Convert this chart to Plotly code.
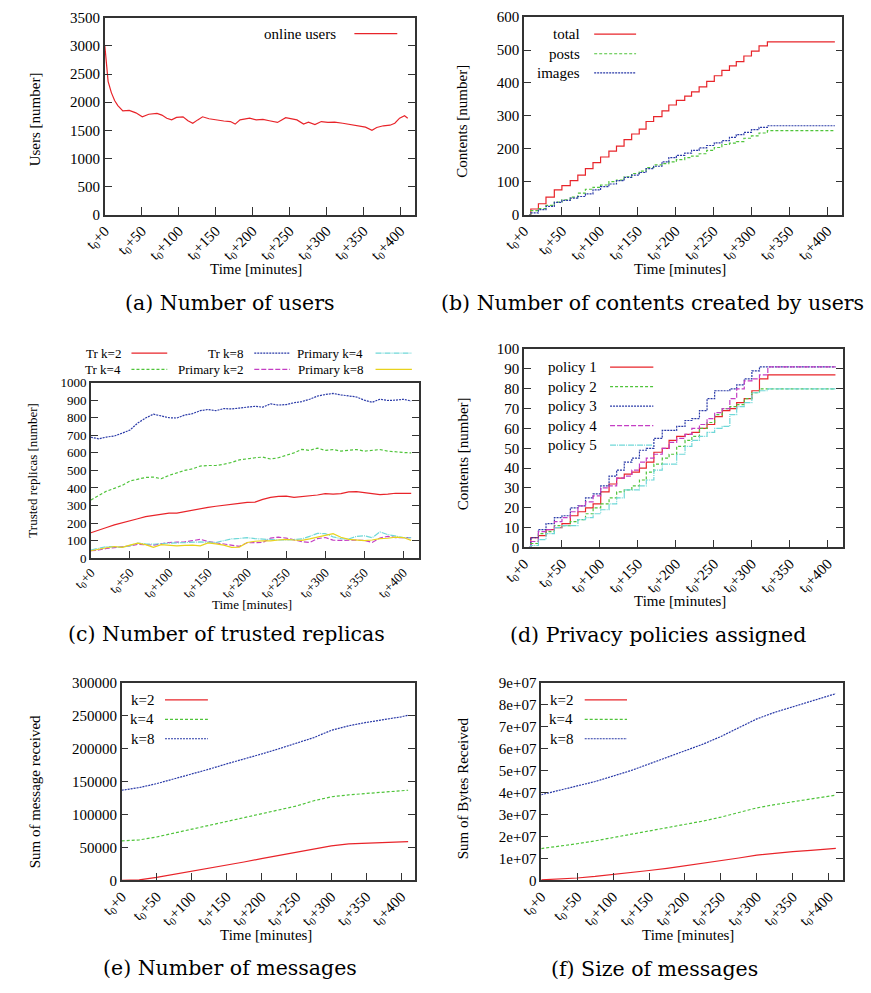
import plotly.graph_objects as go

W, H = 871, 993

# ---------------- data ----------------
X_TICKS = [0, 50, 100, 150, 200, 250, 300, 350, 400]
X_TICK_LABELS = ["t<sub>0</sub>+%d" % v for v in X_TICKS]

# (a) online users
A_T = [0, 2.2, 4.4, 8.8, 13.2, 17.6, 22, 24.3, 33, 42, 50.7, 59.5, 70.6, 77.2, 83.8, 90.4, 97, 105.8,
       112.5, 119, 125.7, 132.3, 141, 150, 161, 170, 176.4, 183, 196, 205, 214, 222.7, 233.7, 244.8,
       253.6, 260, 269, 275.6, 284.4, 293, 302, 311, 322, 333, 344, 352.8, 361.6, 368, 377, 386,
       392.5, 399, 405.7, 410]
A_USERS = [3000, 2600, 2370, 2170, 2030, 1940, 1870, 1845, 1855, 1810, 1740, 1785, 1800, 1770, 1715,
           1685, 1730, 1740, 1670, 1625, 1685, 1740, 1705, 1685, 1665, 1655, 1610, 1685, 1715, 1685,
           1695, 1670, 1640, 1725, 1695, 1685, 1610, 1645, 1600, 1655, 1640, 1645, 1625, 1600, 1570,
           1555, 1500, 1550, 1580, 1590, 1625, 1715, 1760, 1715]

# step times shared by (b) and (d)
STEP_START = 7
STEP_T = [9, 19, 29, 40, 50, 61, 71, 81, 91, 101, 112, 122, 132, 142, 152, 161, 171, 182, 191, 201,
          212, 221, 231, 241, 251, 261, 271, 280, 290, 300, 310, 321]
STEP_END = 410

# (b) contents
B_TOTAL = [17, 33, 53, 75, 88, 103, 120, 140, 158, 175, 193, 208, 228, 245, 260, 283, 298, 315, 333,
           347, 360, 373, 388, 405, 422, 438, 452, 465, 482, 497, 513, 525]
B_POSTS = [12, 18, 28, 38, 45, 53, 65, 77, 83, 90, 100, 105, 115, 125, 132, 143, 151, 155, 160, 167,
           173, 178, 185, 195, 204, 213, 217, 222, 232, 239, 248, 255]
B_IMAGES = [5, 15, 25, 37, 43, 50, 55, 63, 75, 85, 93, 103, 113, 120, 128, 140, 147, 160, 173, 180,
            187, 195, 203, 210, 218, 225, 235, 243, 250, 258, 265, 270]

# (c) trusted replicas
C_T = list(range(0, 420, 10))
C_TR2 = [145, 162, 175, 190, 203, 215, 225, 237, 245, 252, 257, 257, 265, 275, 285, 290, 296, 300, 305, 312,
         318, 320, 335, 347, 352, 354, 347, 350, 356, 360, 368, 365, 368, 378, 379, 373, 366, 362, 365, 370,
         370, 369]
C_TR4 = [332, 355, 382, 398, 415, 440, 452, 460, 462, 453, 472, 487, 500, 509, 525, 528, 528, 535, 545, 560,
         568, 572, 576, 565, 572, 585, 600, 620, 614, 627, 614, 619, 610, 615, 619, 610, 614, 619, 610, 605,
         602, 600]
C_TR8 = [689, 680, 690, 696, 712, 730, 770, 798, 820, 812, 800, 798, 815, 823, 840, 847, 840, 852, 850, 855,
         862, 865, 860, 879, 872, 875, 885, 892, 905, 923, 932, 938, 930, 926, 918, 900, 888, 905, 898, 900,
         905, 895]
C_P2 = [43, 47, 56, 60, 62, 70, 80, 78, 75, 82, 90, 92, 93, 100, 108, 95, 88, 80, 72, 68,
        88, 90, 90, 115, 120, 115, 105, 95, 90, 112, 118, 103, 102, 104, 103, 102, 90, 115, 125, 118,
        118, 117]
C_P4 = [47, 58, 67, 65, 62, 72, 86, 82, 80, 84, 86, 88, 93, 93, 93, 92, 90, 100, 110, 113,
        117, 112, 108, 106, 104, 104, 106, 110, 125, 142, 140, 122, 112, 110, 125, 128, 117, 150, 135, 125,
        118, 117]
C_P8 = [43, 53, 60, 67, 62, 75, 86, 78, 62, 78, 75, 71, 74, 75, 71, 88, 82, 75, 62, 64,
        90, 97, 99, 99, 104, 108, 104, 102, 110, 118, 130, 140, 120, 108, 104, 100, 104, 112, 114, 120,
        118, 102]

# (d) privacy policies
D_P1 = [5, 6, 9, 10, 12, 16, 18, 20, 22, 28, 32, 35, 37, 38, 40, 43, 48, 50, 54, 56, 57, 58, 60, 62,
        66, 69, 70, 73, 75, 79, 85, 87]
D_P2 = [2, 7, 8, 11, 11, 13, 14, 17, 20, 22, 25, 28, 29, 31, 34, 38, 42, 45, 47, 51, 54, 56, 60, 63,
        67, 70, 71, 72, 75, 78, 80, 80]
D_P3 = [5, 9, 12, 15, 16, 20, 21, 25, 27, 31, 36, 39, 43, 45, 49, 50, 55, 59, 59, 61, 64, 65, 69, 75,
        79, 79, 80, 82, 85, 89, 91, 91]
D_P4 = [3, 8, 9, 13, 15, 18, 21, 23, 26, 30, 31, 35, 36, 39, 43, 45, 47, 50, 53, 55, 57, 60, 62, 65,
        68, 70, 75, 80, 84, 85, 87, 91]
D_P5 = [1, 4, 7, 10, 11, 11, 14, 15, 17, 19, 22, 25, 29, 29, 31, 34, 39, 42, 42, 47, 51, 54, 56, 58,
        60, 61, 67, 71, 73, 78, 79, 80]

# (e), (f) messages
EF_T = [0, 25, 50, 75, 100, 125, 150, 175, 200, 225, 250, 275, 300, 325, 350, 375, 400, 410]
E_K2 = [0, 800, 4500, 9000, 13500, 18000, 23000, 28000, 33000, 38000, 43000, 48000, 52500, 55500,
        56500, 57500, 58500, 59000]
E_K4 = [60000, 61500, 66000, 72000, 78000, 84000, 90000, 96000, 102000, 107000, 113000, 121000, 127000,
        130000, 132000, 134000, 136500, 137000]
E_K8 = [137000, 141000, 147000, 154000, 161000, 169000, 177000, 184000, 192000, 200000, 208000, 217000,
        228000, 235000, 240000, 244000, 248500, 251000]
F_K2 = [2e5, 5e5, 1.1e6, 1.8e6, 2.6e6, 3.5e6, 4.5e6, 5.5e6, 6.6e6, 7.7e6, 8.9e6, 1.02e7, 1.15e7, 1.24e7,
        1.31e7, 1.37e7, 1.43e7, 1.46e7]
F_K4 = [1.45e7, 1.55e7, 1.67e7, 1.8e7, 1.95e7, 2.08e7, 2.22e7, 2.37e7, 2.53e7, 2.7e7, 2.88e7, 3.1e7,
        3.3e7, 3.45e7, 3.57e7, 3.68e7, 3.82e7, 3.88e7]
F_K8 = [3.9e7, 4.1e7, 4.3e7, 4.5e7, 4.75e7, 5.0e7, 5.3e7, 5.6e7, 5.9e7, 6.2e7, 6.55e7, 6.95e7, 7.35e7,
        7.65e7, 7.9e7, 8.15e7, 8.4e7, 8.5e7]
F_TICKS = [0, 1e7, 2e7, 3e7, 4e7, 5e7, 6e7, 7e7, 8e7, 9e7]
F_TICK_LABELS = ["0", "1e+07", "2e+07", "3e+07", "4e+07", "5e+07", "6e+07", "7e+07", "8e+07", "9e+07"]

# ---------------- styles ----------------
FONT = "Liberation Serif"
CAP_FONT = "DejaVu Serif"
CAP_SIZE = 20.5
RED = "#e8242a"
GREEN = "#4fc43a"
BLUE = "#2a3aa8"
MAGENTA = "#c43ec4"
CYAN = "#6fd8d8"
YELLOW = "#e8d21c"
FRAME = "#333333"

S_SOLID = dict(dash="solid", width=1.2)
S_GREEN = dict(dash="3px,2px", width=1.2)
S_BLUE = dict(dash="2px,1px", width=1.2)
S_MAG = dict(dash="5px,2px", width=1.2)
S_CYAN = dict(dash="6px,1px,1px,1px", width=1.2)


def fx(px):
    return px / W


def fy(py):
    return 1 - py / H


fig = go.Figure()

# panel domains in pixels: (x0, x1, ytop, ybottom)
PANELS = {
    1: (85, 403.3, 10, 210),
    2: (515, 841.7, 9.3, 210),
    3: (70.7, 407.3, 380.7, 559.3),
    4: (515, 842.3, 346.7, 548.3),
    5: (102.3, 403.3, 686, 886.7),
    6: (532.7, 842.3, 685.7, 886.7),
}
YR = {1: (0, 3500, 500), 2: (0, 600, 100), 3: (0, 1000, 100), 4: (0, 100, 10),
      5: (0, 300000, 50000), 6: (0, 9e7, 1e7)}
TICKFS = {1: 15, 2: 15, 3: 13, 4: 15, 5: 15, 6: 15}


def axn(i, k):
    return k if i == 1 else f"{k}{i}"


def ref(i):
    return ("x" if i == 1 else f"x{i}"), ("y" if i == 1 else f"y{i}")


layout = {}
for i, (x0, x1, yt, yb) in PANELS.items():
    lo, hi, dt = YR[i]
    fs = TICKFS[i]
    xa = dict(domain=[fx(x0), fx(x1)], range=[0, 420], anchor=ref(i)[1],
              tickvals=X_TICKS, ticktext=X_TICK_LABELS, tickangle=-45,
              ticks="inside", ticklen=8, tickcolor=FRAME, tickwidth=1.2,
              showline=True, linecolor=FRAME, linewidth=1.5, mirror=True,
              showgrid=False, zeroline=False,
              tickfont=dict(family=FONT, size=fs, color="black"))
    ya = dict(domain=[fy(yb), fy(yt)], range=[lo, hi], anchor=ref(i)[0],
              ticks="inside", ticklen=7, tickcolor=FRAME, tickwidth=1.2,
              showline=True, linecolor=FRAME, linewidth=1.5, mirror="ticks",
              showgrid=False, zeroline=False,
              tickfont=dict(family=FONT, size=fs, color="black"))
    if i == 6:
        ya.update(tickvals=F_TICKS, ticktext=F_TICK_LABELS)
    else:
        ya.update(dtick=dt, tick0=0, tickformat="d")
    layout[axn(i, "xaxis")] = xa
    layout[axn(i, "yaxis")] = ya


def add(i, x, y, color, style, shape="linear"):
    xr, yr = ref(i)
    fig.add_trace(go.Scatter(x=x, y=y, mode="lines", xaxis=xr, yaxis=yr,
                             line=dict(color=color, shape=shape, **style),
                             hoverinfo="skip", showlegend=False))


def steps(levels):
    return [STEP_START] + STEP_T + [STEP_END], [0] + levels + [levels[-1]]


# (a)
add(1, A_T, A_USERS, RED, S_SOLID)
# (b)
for lv, col, st in [(B_TOTAL, RED, S_SOLID), (B_POSTS, GREEN, S_GREEN), (B_IMAGES, BLUE, S_BLUE)]:
    sx, sy = steps(lv)
    add(2, sx, sy, col, st, "hv")
# (c)
for ys, col, st in [(C_TR2, RED, S_SOLID), (C_TR4, GREEN, S_GREEN), (C_TR8, BLUE, S_BLUE),
                    (C_P2, MAGENTA, S_MAG), (C_P4, CYAN, S_CYAN), (C_P8, YELLOW, S_SOLID)]:
    add(3, C_T, ys, col, st)
# (d)
for lv, col, st in [(D_P1, RED, S_SOLID), (D_P2, GREEN, S_GREEN), (D_P3, BLUE, S_BLUE),
                    (D_P4, MAGENTA, S_MAG), (D_P5, CYAN, S_CYAN)]:
    sx, sy = steps(lv)
    add(4, sx, sy, col, st, "hv")
# (e)
for ys, col, st in [(E_K2, RED, S_SOLID), (E_K4, GREEN, S_GREEN), (E_K8, BLUE, S_BLUE)]:
    add(5, EF_T, ys, col, st)
# (f)
for ys, col, st in [(F_K2, RED, S_SOLID), (F_K4, GREEN, S_GREEN), (F_K8, BLUE, S_BLUE)]:
    add(6, EF_T, ys, col, st)

annotations = []
shapes = []


def text(x, y, s, size, anchor="center", angle=0, family=FONT):
    annotations.append(dict(x=fx(x), y=fy(y), xref="paper", yref="paper", text=s, showarrow=False,
                            xanchor=anchor, yanchor="middle", textangle=angle,
                            font=dict(family=family, size=size, color="black")))


def key(xt, x0, x1, y, label, color, style, size):
    text(xt, y, label, size, anchor="right")
    shapes.append(dict(type="line", xref="paper", yref="paper", x0=fx(x0), x1=fx(x1), y0=fy(y), y1=fy(y),
                       line=dict(color=color, width=style["width"], dash=style["dash"])))


# legends
key(324, 341, 385, 26, "online users", RED, S_SOLID, 15)
key(574, 587, 630, 26.5, "total", RED, S_SOLID, 15)
key(574, 587, 630, 46.5, "posts", GREEN, S_GREEN, 15)
key(574, 587, 630, 66, "images", BLUE, S_BLUE, 15)

key(103.5, 112.3, 149, 350.7, "Tr k=2", RED, S_SOLID, 13)
key(103.5, 112.3, 149, 367.3, "Tr k=4", GREEN, S_GREEN, 13)
key(229, 238.3, 275, 350.7, "Tr k=8", BLUE, S_BLUE, 13)
key(229, 238.3, 275, 367.3, "Primary k=2", MAGENTA, S_MAG, 13)
key(352, 362.7, 400, 350.7, "Primary k=4", CYAN, S_CYAN, 13)
key(352, 362.7, 400, 367.3, "Primary k=8", YELLOW, S_SOLID, 13)

for j, (lab, col, st) in enumerate([("policy 1", RED, S_SOLID), ("policy 2", GREEN, S_GREEN),
                                    ("policy 3", BLUE, S_BLUE), ("policy 4", MAGENTA, S_MAG),
                                    ("policy 5", CYAN, S_CYAN)]):
    key(592, 603.3, 647.7, 365 + 19.8 * j, lab, col, st, 15)

for j, (lab, col, st) in enumerate([("k=2", RED, S_SOLID), ("k=4", GREEN, S_GREEN), ("k=8", BLUE, S_BLUE)]):
    key(137, 146.7, 190.7, 703.3 + 19.7 * j, lab, col, st, 15)
    key(567, 577.3, 620.7, 703.3 + 19.7 * j, lab, col, st, 15)

# axis titles
text(240, 265, "Time [minutes]", 15)
text(675, 265, "Time [minutes]", 15)
text(236, 606, "Time [minutes]", 13)
text(675, 603, "Time [minutes]", 15)
text(250, 942, "Time [minutes]", 15)
text(683, 942, "Time [minutes]", 15)
text(13.5, 113, "Users [number]", 15, angle=-90)
text(452, 115, "Contents [number]", 15, angle=-90)
text(10.5, 470, "Trusted replicas [number]", 13, angle=-90)
text(452, 453, "Contents [number]", 15, angle=-90)
text(13.5, 797, "Sum of message received", 15, angle=-90)
text(452.5, 793, "Sum of Bytes Received", 15, angle=-90)

# captions
text(213.5, 300, "(a) Number of users", CAP_SIZE, family=CAP_FONT)
text(647, 300, "(b) Number of contents created by users", CAP_SIZE, family=CAP_FONT)
text(209.5, 636.5, "(c) Number of trusted replicas", CAP_SIZE, family=CAP_FONT)
text(652, 637, "(d) Privacy policies assigned", CAP_SIZE, family=CAP_FONT)
text(213.5, 976, "(e) Number of messages", CAP_SIZE, family=CAP_FONT)
text(649, 976.5, "(f) Size of messages", CAP_SIZE, family=CAP_FONT)

layout.update(width=W, height=H, margin=dict(l=0, r=0, t=0, b=0),
              paper_bgcolor="white", plot_bgcolor="white", showlegend=False,
              font=dict(family=FONT, color="black"),
              annotations=annotations, shapes=shapes)
fig.update_layout(**layout)
fig.write_html("out.html")
